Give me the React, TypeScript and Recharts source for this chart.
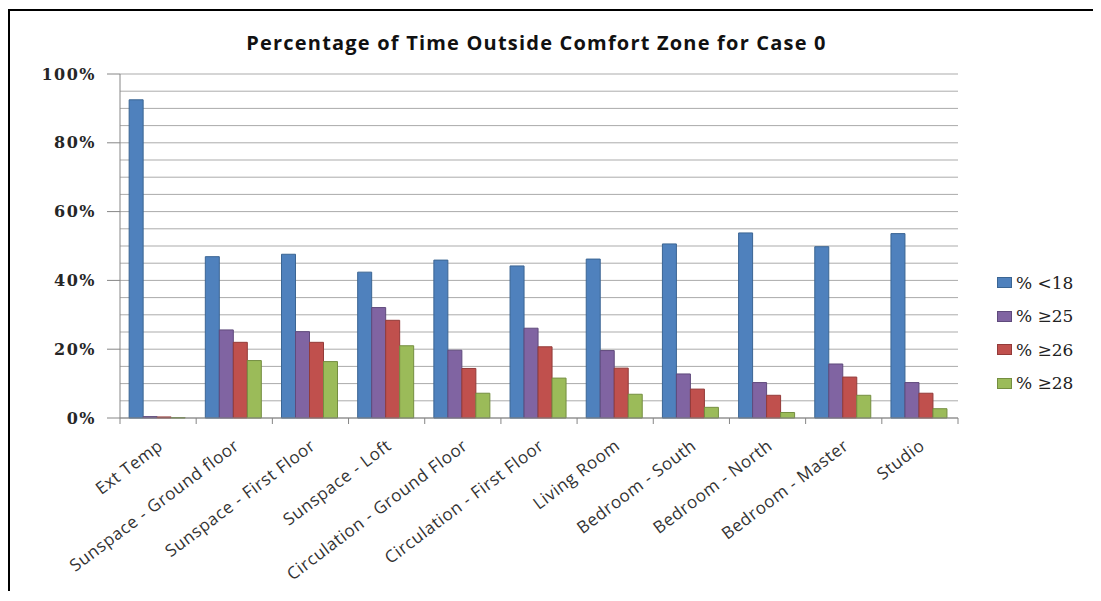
import { Bar, BarChart, CartesianGrid, XAxis, YAxis } from "recharts";

const categories = [
  "Ext Temp",
  "Sunspace - Ground floor",
  "Sunspace - First Floor",
  "Sunspace - Loft",
  "Circulation - Ground Floor",
  "Circulation - First Floor",
  "Living Room",
  "Bedroom - South",
  "Bedroom - North",
  "Bedroom - Master",
  "Studio",
];

const below18 = [92.5, 46.9, 47.6, 42.4, 45.9, 44.2, 46.2, 50.6, 53.8, 49.8, 53.6];
const above25 = [0.4, 25.6, 25.1, 32.1, 19.7, 26.1, 19.6, 12.8, 10.3, 15.7, 10.3];
const above26 = [0.3, 22.0, 22.0, 28.4, 14.4, 20.7, 14.5, 8.4, 6.6, 11.9, 7.2];
const above28 = [0.1, 16.7, 16.4, 21.0, 7.2, 11.6, 6.9, 3.1, 1.6, 6.6, 2.7];

const yTicks = [0, 5, 10, 15, 20, 25, 30, 35, 40, 45, 50, 55, 60, 65, 70, 75, 80, 85, 90, 95, 100];

const series = [
  { key: "below18", label: "% <18", fill: "#4F81BD", stroke: "#3B6593" },
  { key: "above25", label: "% \u226525", fill: "#8064A2", stroke: "#5F4A7C" },
  { key: "above26", label: "% \u226526", fill: "#C0504D", stroke: "#933B39" },
  { key: "above28", label: "% \u226528", fill: "#9BBB59", stroke: "#748E40" },
];

const rows = categories.map((name, i) => ({
  name,
  below18: below18[i],
  above25: above25[i],
  above26: above26[i],
  above28: above28[i],
}));

const axisGray = "#868686";

function YTick(props: any) {
  const { x, y, payload } = props;
  const v = payload.value;
  if (v % 20 !== 0) return <g />;
  return (
    <g>
      <line x1={x - 13} x2={x} y1={y} y2={y} stroke={axisGray} />
      <text
        x={x - 24}
        y={y}
        dy="0.35em"
        textAnchor="end"
        fontFamily="'DejaVu Serif', serif"
        fontWeight="bold"
        fontSize={16}
        letterSpacing={1.5}
        fill="#262626"
      >
        {v}%
      </text>
    </g>
  );
}

function XTick(props: any) {
  const { x, y, payload, index } = props;
  const half = payload.offset ?? 38;
  const ax = x + 6;
  const ay = y + 30;
  return (
    <g>
      <line x1={x - half} x2={x - half} y1={y} y2={y + 6} stroke={axisGray} />
      {index === categories.length - 1 && (
        <line x1={x + half} x2={x + half} y1={y} y2={y + 6} stroke={axisGray} />
      )}
      <text
        x={ax}
        y={ay}
        transform={`rotate(-37 ${ax} ${ay})`}
        textAnchor="end"
        fontFamily="'Open Sans', sans-serif"
        fontSize={17}
        letterSpacing={0.6}
        fill="#333"
      >
        {payload.value}
      </text>
    </g>
  );
}

export default function App() {
  return (
    <div style={{ position: "relative", width: 1093, height: 585, background: "#fff" }}>
      <BarChart
        width={1085}
        height={585}
        data={rows}
        margin={{ top: 66, right: 135, bottom: 0, left: 0 }}
        barGap={0}
        barCategoryGap="12%"
      >
        <CartesianGrid vertical={false} stroke="#ABABAB" />
        <XAxis
          dataKey="name"
          height={175}
          interval={0}
          tickLine={false}
          tickSize={0}
          tickMargin={0}
          stroke={axisGray}
          tick={<XTick />}
        />
        <YAxis
          type="number"
          domain={[0, 100]}
          ticks={yTicks}
          interval={0}
          width={112}
          tickLine={false}
          tickSize={0}
          tickMargin={0}
          stroke={axisGray}
          tick={<YTick />}
        />
        {series.map((s) => (
          <Bar
            key={s.key}
            dataKey={s.key}
            fill={s.fill}
            stroke={s.stroke}
            strokeWidth={1}
            isAnimationActive={false}
          />
        ))}
      </BarChart>

      <div
        style={{
          position: "absolute",
          left: 0,
          width: 1057,
          top: 21,
          textAlign: "center",
          fontFamily: "'Open Sans', sans-serif",
          fontWeight: "bold",
          fontSize: 20,
          letterSpacing: 1.2,
          color: "#111",
        }}
      >
        Percentage of Time Outside Comfort Zone for Case 0
      </div>

      <div style={{ position: "absolute", left: 989, top: 258 }}>
        {series.map((s) => (
          <div
            key={s.key}
            style={{ display: "flex", alignItems: "center", height: 33.5 }}
          >
            <span
              style={{
                display: "inline-block",
                width: 13,
                height: 9,
                background: s.fill,
                border: `1px solid ${s.stroke}`,
                marginRight: 4,
              }}
            />
            <span
              style={{
                fontFamily: "'DejaVu Serif', serif",
                fontSize: 17,
                color: "#222",
              }}
            >
              {s.label}
            </span>
          </div>
        ))}
      </div>

      <div
        style={{
          position: "absolute",
          left: 0,
          top: 1,
          width: 1088,
          height: 580,
          borderTop: "2px solid #000",
          borderLeft: "2px solid #000",
          pointerEvents: "none",
        }}
      />
    </div>
  );
}
